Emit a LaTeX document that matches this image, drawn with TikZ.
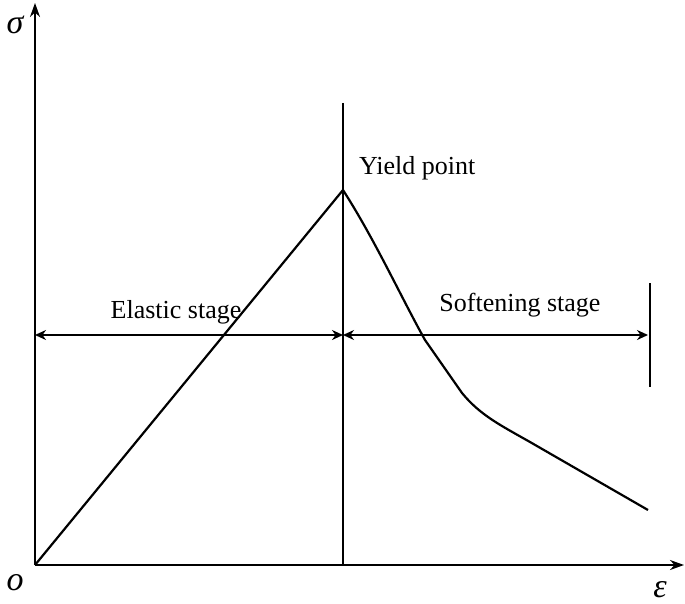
\documentclass[tikz,border=0pt]{standalone}
\usepackage{fontspec}
\setmainfont{Liberation Serif}
\usetikzlibrary{arrows.meta}
\begin{document}
\begin{tikzpicture}[x=1pt,y=-1pt,line width=2.2pt,
  lbl/.style={font=\fontsize{26}{28}\selectfont,inner sep=0pt},
  sym/.style={font=\fontsize{34}{36}\selectfont\itshape,inner sep=0pt},
  dim/.style={{Stealth[length=11pt,width=10pt]}-{Stealth[length=11pt,width=10pt]}}]
\useasboundingbox (0,0) rectangle (685,604);
\coordinate (O) at (35,565);
\coordinate (ytop) at (35,3);
\coordinate (xend) at (684,565);
\draw[-{Stealth[length=14pt,width=10pt]}] (O) -- (ytop);
\draw[-{Stealth[length=14pt,width=10pt]}] (O) -- (xend);
\coordinate (vt) at (343,103);
\coordinate (vb) at (343,565);
\draw (vt) -- (vb);
\coordinate (peak) at (343,190);
\draw (O) -- (peak) .. controls (375,240) and (400,295) .. (425,340) -- (462,393) .. controls (480,415) and (500,425) .. (530,442) -- (648,510);
\coordinate (aL) at (35,335);
\coordinate (aM) at (343,335);
\coordinate (aR) at (648,335);
\draw[dim] (aL) -- (aM);
\draw[dim] (aM) -- (aR);
\coordinate (bt) at (650,283);
\coordinate (bb) at (650,387);
\draw (bt) -- (bb);
\node[sym] (sig) at (15,25) {σ};
\node[sym] (eps) at (660,590) {ε};
\node[sym] (o) at (15,583) {o};
\node[lbl,anchor=west] (yp) at (358,168) {Yield point};
\node[lbl] (el) at (176,312) {Elastic stage};
\node[lbl] (so) at (520,305) {Softening stage};
\end{tikzpicture}
\end{document}
